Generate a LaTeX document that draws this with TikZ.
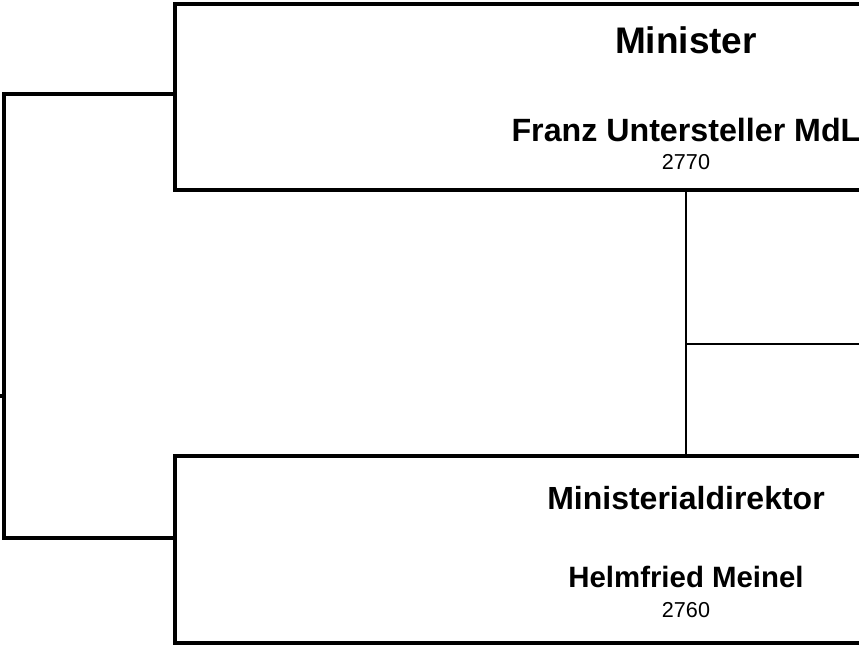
\documentclass[tikz,border=0pt]{standalone}
\usepackage{fontspec}
\setmainfont{Liberation Sans}

\begin{document}
\begin{tikzpicture}
  [x=0.5pt,y=-0.5pt,line width=1.6pt,
   orgbox/.style={draw,rectangle,inner sep=0pt,minimum width=511pt},
   post/.style={anchor=base,inner sep=0pt,font=\bfseries\fontsize{16}{18}\selectfont},
   person/.style={anchor=base,inner sep=0pt,font=\bfseries\fontsize{16.1}{18}\selectfont},
   phone/.style={anchor=base,inner sep=0pt,font=\fontsize{10.8}{12}\selectfont}]
  \clip (0,0) rectangle (859,645);
  \node[orgbox,minimum height=93pt] (minister) at (686,97) {};
  \node[orgbox,minimum height=93.5pt] (md) at (686,549.5) {};
  \node[post,font=\bfseries\fontsize{18.5}{20}\selectfont] (ministertitle) at (686,53) {Minister};
  \node[person] (ministername) at (686,141) {Franz Untersteller MdL};
  \node[phone] (ministerphone) at (686,169) {2770};
  \node[post] (mdtitle) at (686,509) {Ministerialdirektor};
  \node[person,font=\bfseries\fontsize{14.7}{17}\selectfont] (mdname) at (686,587) {Helmfried Meinel};
  \node[phone] (mdphone) at (686,617) {2760};
  \coordinate (ltop) at (4,94);
  \coordinate (lbot) at (4,538);
  \coordinate (lin) at (0,396);
  \coordinate (stab) at (686,344);
  \coordinate (stabend) at (870,344);
  \draw (minister.west |- ltop) -- (ltop) -- (lbot) -- (md.west |- lbot);
  \draw (lin) -- (lin -| ltop);
  \draw[line width=1.3pt] (minister.south) -- (md.north);
  \draw[line width=1.3pt] (stab) -- (stabend);
\end{tikzpicture}
\end{document}
